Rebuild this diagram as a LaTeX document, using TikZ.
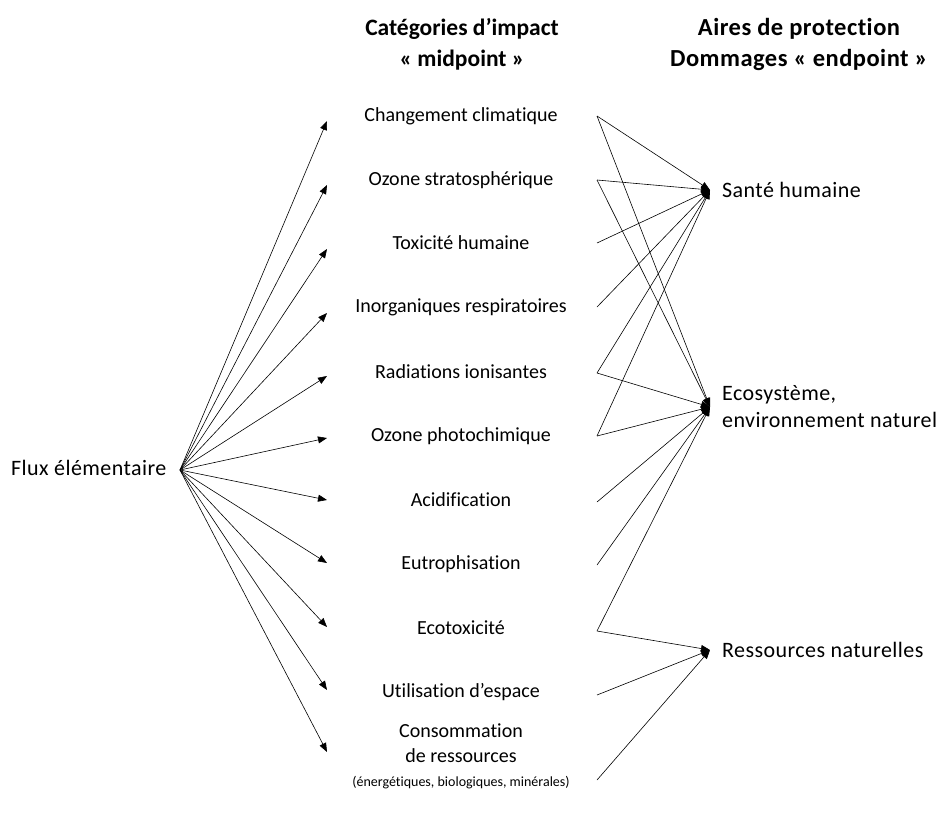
\documentclass[tikz,border=0pt]{standalone}
\usepackage{fontspec}
\setmainfont{Carlito}[Ligatures=NoCommon]
\newfontfamily\widefont{Carlito}[LetterSpace=2,Ligatures=NoCommon]
\usetikzlibrary{arrows.meta}
\tikzset{
  lbl/.style={font=\fontsize{20}{25}\selectfont, inner sep=0pt, align=center},
  side/.style={font=\widefont\fontsize{22}{27}\selectfont, inner sep=0pt, align=left},
  hdr/.style={font=\bfseries\fontsize{23.5}{31}\selectfont, inner sep=0pt, align=center},
  hdrw/.style={font=\widefont\bfseries\fontsize{24.5}{31}\selectfont, inner sep=0pt, align=center},
  arr/.style={-{Triangle[length=9pt,width=7pt]}, line width=0.6pt},
}
\begin{document}
\begin{tikzpicture}[x=1pt,y=-1pt]
\useasboundingbox (0,0) rectangle (942,812);
% headers
\node[hdr] (h1) at (462,44) {Catégories d’impact\\«~midpoint~»};
\node[hdrw] (h2) at (799,44) {Aires de protection\\Dommages «~endpoint~»};
% source
\node[side, anchor=west] (flux) at (11,468) {Flux élémentaire};
\coordinate (src) at (180,470);
% categories
\foreach \n/\y/\t in {c1/116/Changement climatique, c2/180/Ozone stratosphérique, c3/243/Toxicité humaine, c4/307/Inorganiques respiratoires, c5/372/Radiations ionisantes, c6/436/Ozone photochimique, c7/500/Acidification, c8/564/Eutrophisation, c9/628/Ecotoxicité, c10/692/Utilisation d’espace}{
  \node[lbl] (\n) at (461,\y) {\t};
}
\node[lbl] (c11) at (461,743.5) {Consommation\\de ressources};
\node[font=\fontsize{14}{16}\selectfont, inner sep=0pt] (c11b) at (461,783) {(énergétiques, biologiques, minérales)};
% left arrow tips
\foreach \n/\y in {1/121,2/185,3/249,4/313,5/376,6/438,7/500,8/563,9/627,10/690,11/752}{
  \coordinate (L\n) at (327,\y);
  \draw[arr] (src) -- (L\n);
}
% right line starts
\foreach \n/\y in {1/116,2/180,3/243,4/307,5/373,6/436,7/502,8/565,9/631,10/695,11/780}{
  \coordinate (R\n) at (597,\y);
}
% endpoints
\coordinate (sante) at (710,190);
\coordinate (eco) at (710,407);
\coordinate (res) at (710,650);
\node[side, anchor=west] (e1) at (722,190) {Santé humaine};
\node[side, anchor=west] (e2) at (722,407) {Ecosystème,\\environnement naturel};
\node[side, anchor=west] (e3) at (722,650) {Ressources naturelles};
% connections
\foreach \a in {1,2,3,4,5,6}{\draw[arr] (R\a) -- (sante);}
\foreach \a in {1,2,5,6,7,8,9}{\draw[arr] (R\a) -- (eco);}
\foreach \a in {9,10,11}{\draw[arr] (R\a) -- (res);}
\end{tikzpicture}
\end{document}
